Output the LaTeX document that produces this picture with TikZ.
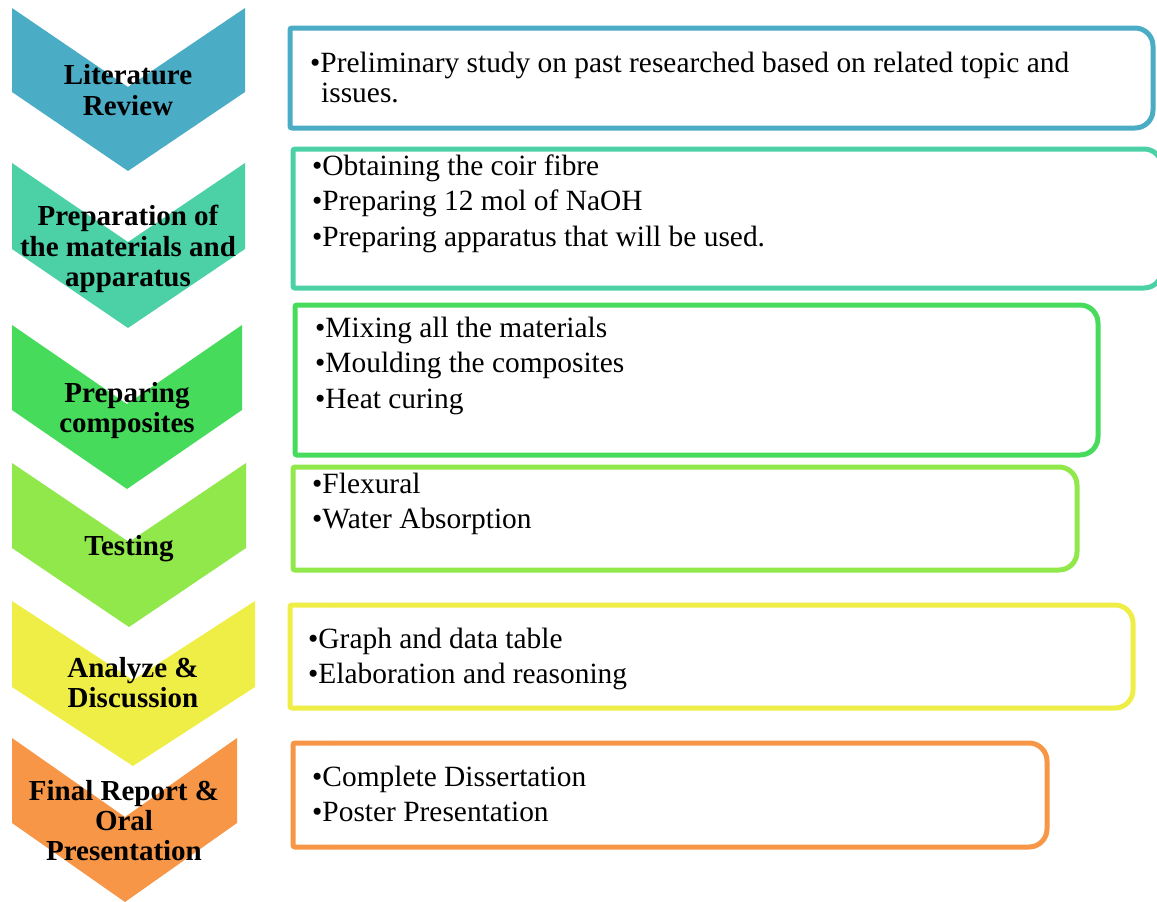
\documentclass[tikz,border=0pt]{standalone}
\usepackage{fontspec}
\setmainfont{Liberation Serif}
\definecolor{cA}{HTML}{4BACC6}
\definecolor{cB}{HTML}{4BD1A5}
\definecolor{cC}{HTML}{47DB5C}
\definecolor{cD}{HTML}{91E84A}
\definecolor{cE}{HTML}{EEEE46}
\definecolor{cF}{HTML}{F79646}
% chevron: left, right, top, side bottom, tip x, colour
\newcommand\chevshape[6]{%
  \fill[#6] (#1,#3) -- (#5,#3+79) -- (#2,#3) -- (#2,#4) -- (#5,#4+79) -- (#1,#4) -- cycle;}
% frame: left, top, right, bottom, colour
\newcommand\frameshape[5]{%
  \draw[frameline,#5,rounded corners=18pt] (#1+40,#2) -- (#3,#2) -- (#3,#4) -- (#1+40,#4);
  \draw[frameline,#5,rounded corners=2pt] (#1+40,#4) -- (#1,#4) -- (#1,#2) -- (#1+40,#2);}
\tikzset{
  frameline/.style={line width=5pt},
  item/.style={anchor=base west, inner sep=0pt, font=\fontsize{29.4}{35}\selectfont},
  ttl/.style={anchor=base, inner sep=0pt, font=\fontsize{29}{30}\selectfont\bfseries},
}
\begin{document}
\begin{tikzpicture}[x=1pt,y=-1pt]
\useasboundingbox (0,0) rectangle (1157,902);
% chevrons
\chevshape{12}{245}{8}{92}{128}{cA}
\chevshape{12}{245}{163}{249}{128}{cB}
\chevshape{12}{242}{325}{410}{127}{cC}
\chevshape{12}{246}{463}{548}{129}{cD}
\chevshape{12}{255}{601}{687}{133}{cE}
\chevshape{12}{237}{738}{823}{125}{cF}
% chevron titles
\node[ttl] (c1a) at (128,84) {Literature};
\node[ttl] (c1b) at (128,115) {Review};
\node[ttl] (c2a) at (128,225) {Preparation of};
\node[ttl] (c2b) at (128,256) {the materials and};
\node[ttl] (c2c) at (128,286) {apparatus};
\node[ttl] (c3a) at (127,402) {Preparing};
\node[ttl] (c3b) at (127,432) {composites};
\node[ttl] (c4a) at (129,555) {Testing};
\node[ttl] (c5a) at (133,677) {Analyze \&};
\node[ttl] (c5b) at (133,707) {Discussion};
\node[ttl] (c6a) at (124,800) {Final Report \&};
\node[ttl] (c6b) at (124,830) {Oral};
\node[ttl] (c6c) at (124,860) {Presentation};
% frames
\frameshape{290}{28}{1153}{128}{cA}
\frameshape{293}{149}{1162}{288}{cB}
\frameshape{295}{305}{1098}{455}{cC}
\frameshape{293}{467}{1077}{570}{cD}
\frameshape{290}{605}{1133}{708}{cE}
\frameshape{293}{743}{1047}{847}{cF}
% items
\node[item] (t1a) at (310,72) {•Preliminary study on past researched based on related topic and};
\node[item] (t1b) at (321,102) {issues.};
\node[item] (t2a) at (312,175) {•Obtaining the coir fibre};
\node[item] (t2b) at (312,210) {•Preparing 12 mol of NaOH};
\node[item] (t2c) at (312,246) {•Preparing apparatus that will be used.};
\node[item] (t3a) at (315,337) {•Mixing all the materials};
\node[item] (t3b) at (315,372) {•Moulding the composites};
\node[item] (t3c) at (315,408) {•Heat curing};
\node[item] (t4a) at (312,493) {•Flexural};
\node[item] (t4b) at (312,528) {•Water Absorption};
\node[item] (t5a) at (308,648) {•Graph and data table};
\node[item] (t5b) at (308,683) {•Elaboration and reasoning};
\node[item] (t6a) at (312,786) {•Complete Dissertation};
\node[item] (t6b) at (312,821) {•Poster Presentation};
\end{tikzpicture}
\end{document}
